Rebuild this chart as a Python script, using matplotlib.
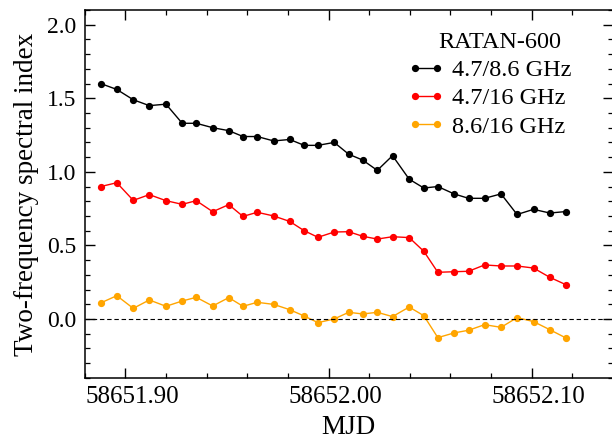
import numpy as np
import matplotlib
matplotlib.use('Agg')
import matplotlib.pyplot as plt
import matplotlib.transforms as mtransforms
from matplotlib.ticker import MultipleLocator, FormatStrFormatter

plt.rcParams['font.family'] = ['Liberation Serif', 'DejaVu Serif']

# observation epochs (MJD)
mjd = [58651.8879, 58651.8958, 58651.9039, 58651.9118, 58651.9200, 58651.9280,
       58651.9349, 58651.9430, 58651.9509, 58651.9579, 58651.9649, 58651.9730,
       58651.9809, 58651.9880, 58651.9948, 58652.0028, 58652.0099, 58652.0168,
       58652.0240, 58652.0315, 58652.0397, 58652.0469, 58652.0538, 58652.0618,
       58652.0689, 58652.0768, 58652.0849, 58652.0928, 58652.1009, 58652.1089,
       58652.1168]

# two-frequency spectral indices
alpha_47_86 = [1.60, 1.56, 1.49, 1.45, 1.46, 1.33, 1.33, 1.30, 1.28, 1.24,
               1.24, 1.21, 1.22, 1.18, 1.18, 1.20, 1.12, 1.08, 1.01, 1.11,
               0.95, 0.89, 0.90, 0.85, 0.82, 0.82, 0.85, 0.71, 0.745, 0.72,
               0.73]
alpha_47_16 = [0.90, 0.926, 0.806, 0.845, 0.804, 0.779, 0.804, 0.729, 0.777, 0.697,
               0.725, 0.700, 0.663, 0.600, 0.555, 0.591, 0.593, 0.562, 0.543, 0.559,
               0.553, 0.460, 0.317, 0.321, 0.324, 0.367, 0.360, 0.360, 0.346, 0.283,
               0.233]
alpha_86_16 = [0.109, 0.158, 0.072, 0.129, 0.086, 0.122, 0.147, 0.088, 0.145, 0.086,
               0.113, 0.099, 0.063, 0.020, -0.025, 0.000, 0.045, 0.034, 0.045, 0.016,
               0.081, 0.022, -0.127, -0.095, -0.077, -0.039, -0.057, 0.009, -0.018, -0.073,
               -0.129]

series = [(alpha_47_86, 'black', '4.7/8.6 GHz'),
          (alpha_47_16, 'red', '4.7/16 GHz'),
          (alpha_86_16, 'orange', '8.6/16 GHz')]

fig = plt.figure(figsize=(6.12, 4.43), dpi=100)
ax = fig.add_axes([0.1384, 0.1472, 0.8632, 0.8302])

for vals, col, lab in series:
    ax.plot(mjd, vals, '-o', color=col, lw=1.0, ms=4.2, label=lab)

ax.axhline(0, color='black', ls='--', lw=0.8, dashes=(4, 2.5))

ax.set_xlim(58651.88, 58652.14)
ax.set_ylim(-0.4, 2.1)
ax.xaxis.set_major_locator(MultipleLocator(0.1))
ax.xaxis.set_minor_locator(MultipleLocator(0.02))
ax.xaxis.set_major_formatter(FormatStrFormatter('%.2f'))
ax.yaxis.set_major_locator(MultipleLocator(0.5))
ax.yaxis.set_minor_locator(MultipleLocator(0.1))
ax.yaxis.set_major_formatter(FormatStrFormatter('%.1f'))

ax.tick_params(which='both', direction='in', top=True, right=True, labelsize=17)
ax.tick_params(which='major', length=7, width=1.0)
ax.tick_params(which='minor', length=3.5, width=0.9)
ax.tick_params(axis='x', pad=6, labelsize=18)
ax.tick_params(axis='y', pad=6)
for sp in ax.spines.values():
    sp.set_linewidth(1.1)

# nudge the MJD labels a little to the right
shift = mtransforms.ScaledTranslation(5 / 72, 0, fig.dpi_scale_trans)
for lbl in ax.get_xticklabels():
    lbl.set_transform(lbl.get_transform() + shift)

ax.set_xlabel('MJD', fontsize=19.5, labelpad=5)
ax.set_ylabel('Two-frequency spectral index', fontsize=19.5, labelpad=6)

# legend heading drawn separately so its gap can be set freely
ax.text(0.786, 0.8967, 'RATAN-600', transform=ax.transAxes,
        ha='center', va='baseline', fontsize=17.5)
ax.legend(loc='upper left', bbox_to_anchor=(0.612, 0.8668),
          frameon=False, fontsize=17.5, numpoints=2,
          handlelength=1.5, handletextpad=0.3, labelspacing=0.26,
          borderpad=0, borderaxespad=0)

fig.savefig('out.png', dpi=100)
